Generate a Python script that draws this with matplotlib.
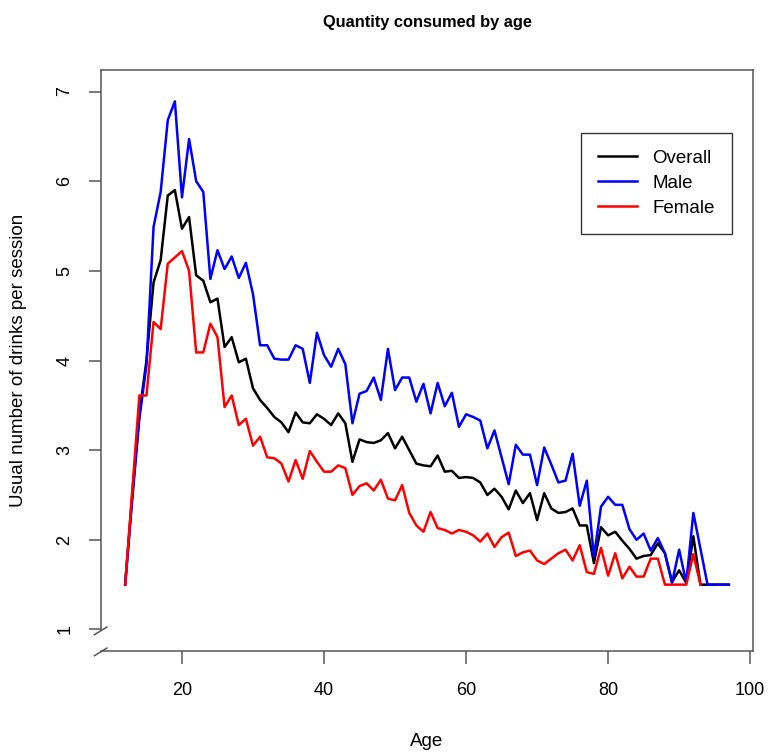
import matplotlib
matplotlib.use("Agg")
import matplotlib.pyplot as plt
import numpy as np

ages = list(range(12, 98))
overall = [1.5, 2.5, 3.4, 4.0, 4.87, 5.12, 5.84, 5.9, 5.47, 5.6,
           4.95, 4.89, 4.65, 4.69, 4.15, 4.26, 3.98, 4.02, 3.69, 3.56,
           3.47, 3.37, 3.31, 3.20, 3.42, 3.31, 3.30, 3.40, 3.35, 3.28,
           3.41, 3.30, 2.87, 3.12, 3.09, 3.08, 3.11, 3.19, 3.02, 3.15,
           3.00, 2.85, 2.83, 2.82, 2.94, 2.76, 2.77, 2.69, 2.70, 2.69,
           2.64, 2.50, 2.57, 2.48, 2.34, 2.55, 2.41, 2.52, 2.22, 2.52,
           2.35, 2.30, 2.31, 2.35, 2.16, 2.16, 1.74, 2.14, 2.05, 2.09,
           1.99, 1.90, 1.79, 1.82, 1.83, 1.96, 1.85, 1.53, 1.66, 1.52,
           2.04, 1.50, 1.50, 1.50, 1.50, 1.50]
male = [1.5, 2.45, 3.35, 3.95, 5.49, 5.88, 6.68, 6.89, 5.82, 6.47,
        6.0, 5.88, 4.91, 5.23, 5.02, 5.16, 4.92, 5.09, 4.74, 4.17,
        4.17, 4.02, 4.01, 4.01, 4.17, 4.13, 3.75, 4.31, 4.06, 3.93,
        4.13, 3.96, 3.30, 3.63, 3.66, 3.81, 3.56, 4.13, 3.67, 3.81,
        3.81, 3.54, 3.74, 3.41, 3.75, 3.49, 3.64, 3.26, 3.40, 3.37,
        3.33, 3.02, 3.22, 2.92, 2.62, 3.06, 2.95, 2.95, 2.61, 3.03,
        2.84, 2.64, 2.66, 2.96, 2.38, 2.66, 1.81, 2.37, 2.48, 2.39,
        2.39, 2.12, 2.00, 2.07, 1.88, 2.02, 1.85, 1.52, 1.89, 1.52,
        2.30, 1.90, 1.50, 1.50, 1.50, 1.50]
female_ages = list(range(12, 94))
female = [1.5, 2.55, 3.61, 3.61, 4.43, 4.35, 5.08, 5.15, 5.22, 5.0,
          4.09, 4.09, 4.41, 4.26, 3.48, 3.61, 3.28, 3.35, 3.05, 3.15,
          2.92, 2.91, 2.85, 2.65, 2.89, 2.68, 2.99, 2.87, 2.76, 2.76,
          2.83, 2.80, 2.50, 2.60, 2.63, 2.55, 2.67, 2.46, 2.44, 2.61,
          2.30, 2.16, 2.09, 2.31, 2.13, 2.11, 2.07, 2.11, 2.09, 2.05,
          1.98, 2.07, 1.92, 2.03, 2.08, 1.82, 1.86, 1.88, 1.77, 1.73,
          1.79, 1.85, 1.89, 1.77, 1.94, 1.64, 1.62, 1.91, 1.60, 1.85,
          1.57, 1.70, 1.59, 1.59, 1.79, 1.79, 1.50, 1.50, 1.50, 1.50,
          1.84, 1.50]

x_ticks = [20, 40, 60, 80, 100]
y_ticks = [1, 2, 3, 4, 5, 6, 7]

plt.rcParams["font.family"] = ["Liberation Sans", "DejaVu Sans"]
axis_color = "#555555"
lw = 1.8
fs = 13

fig = plt.figure(figsize=(7.73, 7.56), dpi=100)
ax = fig.add_axes([101 / 773, 1 - 651 / 756, 652 / 773, 581 / 756])

ax.plot(ages, overall, color="black", lw=lw, label="Overall")
ax.plot(ages, male, color="blue", lw=lw, label="Male")
ax.plot(female_ages, female, color="red", lw=lw, label="Female")

# R-style ranges (4% padding)
ax.set_xlim(12 - 0.04 * 85, 97 + 0.04 * 85)
ax.set_ylim(1 - 0.04 * 6, 7 + 0.04 * 6)
ax.set_xticks(x_ticks)
ax.set_yticks(y_ticks)

for s in ["top", "right", "bottom"]:
    ax.spines[s].set_color(axis_color)
    ax.spines[s].set_linewidth(1.1)
ax.spines["left"].set_visible(False)

# left axis with a break near the bottom
brk = 21 / 581
ax.plot([0, 0], [brk, 1], transform=ax.transAxes, color=axis_color, lw=1.1, clip_on=False)
for yb in (brk - 0.002, -0.002):
    ax.plot([-0.010, 0.009], [yb - 0.006, yb + 0.007], transform=ax.transAxes,
            color=axis_color, lw=1.1, clip_on=False)

ax.tick_params(axis="both", direction="out", length=9, width=1.1, color=axis_color,
               labelsize=fs, labelcolor="black")
ax.tick_params(axis="x", pad=13)
ax.tick_params(axis="y", pad=11)
for lab in ax.get_yticklabels():
    lab.set_rotation(90)
    lab.set_va("center")

ax.set_title("Quantity consumed by age", fontsize=11.8, fontweight="bold", pad=31)
ax.set_xlabel("Age", fontsize=fs + 0.5)
ax.set_ylabel("Usual number of drinks per session", fontsize=fs + 0.5)
ax.xaxis.set_label_coords(0.5, -0.141)
ax.yaxis.set_label_coords(-0.127, 0.5)
ax.yaxis.label.set_va("center")

ax.legend(loc="upper left", bbox_to_anchor=(480 / 652, 518 / 581), borderaxespad=0,
          fancybox=False, edgecolor="#333333", framealpha=1, fontsize=fs + 0.5,
          handlelength=2.1, handletextpad=0.8, labelspacing=0.41, borderpad=0.9)
ax.get_legend().get_frame().set_linewidth(1.0)

plt.savefig("out.png", dpi=100)
